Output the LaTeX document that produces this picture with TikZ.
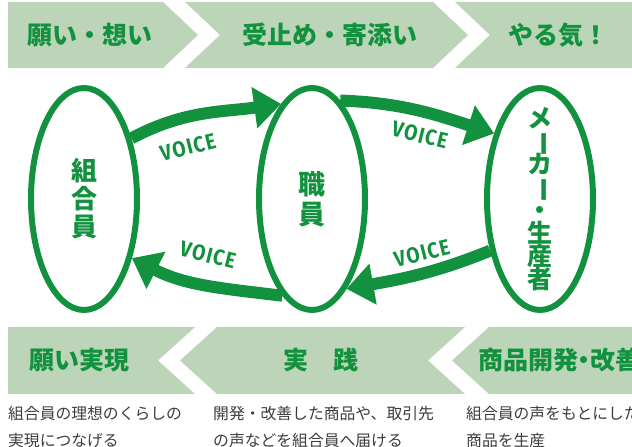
\documentclass[tikz,border=0pt]{standalone}
\usepackage{fontspec}
\newfontfamily\jp{Noto Sans CJK JP}
\newfontfamily\voicefont{Fira Sans}[FakeStretch=0.88,LetterSpace=6]
\usetikzlibrary{arrows.meta,shapes.geometric}
\definecolor{vgreen}{HTML}{12923F}
\definecolor{bandgreen}{HTML}{BCD5B8}
\definecolor{notegrey}{HTML}{3C3C3C}
\newcommand{\vbar}{\rotatebox[origin=c]{-90}{ー}}

\begin{document}
\begin{tikzpicture}[line cap=butt,line join=round,x=1pt,y=1pt,
  actor/.style={ellipse,draw=vgreen,line width=6pt,minimum width=106pt,minimum height=222pt,inner sep=0pt},
  vtext/.style={text=vgreen,align=center,inner sep=0pt},
  title/.style={text=vgreen,font=\jp\bfseries\fontsize{25}{25}\selectfont,inner sep=0pt},
  note/.style={text=notegrey,font=\jp\fontsize{15.8}{27}\selectfont,align=left,anchor=west,inner sep=0pt},
  voice/.style={draw=vgreen,line width=12pt,-{Triangle[length=27pt,width=40pt]}},
  vlabel/.style={text=vgreen,font=\voicefont\bfseries\fontsize{22}{22}\selectfont,inner sep=0pt}]

\clip (0,0) rectangle (632,447);

\draw [fill=bandgreen,draw=none] (8,445)-- (163,445)-- (198,412)-- (163,379)-- (8,379)-- cycle;
\draw [fill=bandgreen,draw=none] (185,445)-- (433,445)-- (468,412)-- (433,379)-- (185,379)-- (220,412)-- cycle;
\draw [fill=bandgreen,draw=none] (455,445)-- (632,445)-- (632,379)-- (455,379)-- (490,412)-- cycle;
\draw [fill=bandgreen,draw=none] (8,120)-- (195,120)-- (158,86.5)-- (195,53)-- (8,53)-- cycle;
\draw [fill=bandgreen,draw=none] (217,120)-- (465,120)-- (428,86.5)-- (465,53)-- (217,53)-- (180,86.5)-- cycle;
\draw [fill=bandgreen,draw=none] (489,120)-- (632,120)-- (632,53)-- (489,53)-- (452,86.5)-- cycle;

\node[title] (wish) at (90,412) {願い・想い};
\node[title] (accept) at (330,412) {受止め・寄添い};
\node[title] (will) at (558,412) {やる気！};
\node[title] (realize) at (79,86.5) {願い実現};
\node[title] (practice) at (321,86.5) {実　践};
\node[title,anchor=west] (develop) at (478,86.5) {商品開発\kern-.25em・\kern-.25em改善};

\node[note] (realizenote) at (8,20) {組合員の理想のくらしの\\実現につなげる};
\node[note] (practicenote) at (213,20) {開発・改善した商品や、取引先\\の声などを組合員へ届ける};
\node[note] (developnote) at (466,20) {組合員の声をもとにした\\商品を生産};

\node[actor] (kumiai) at (84,248) {};
\node[actor] (shokuin) at (312,248) {};
\node[actor] (maker) at (540,248) {};

\node[vtext,font={\jp\bfseries\fontsize{26}{28}\selectfont}] (kumiaitxt) at (kumiai) {組\\合\\員};
\node[vtext,font={\jp\bfseries\fontsize{27}{30}\selectfont}] (shokuintxt) at (shokuin) {職\\員};
\node[vtext,font={\jp\bfseries\fontsize{25}{23}\selectfont\lineskiplimit=-20pt}] (makertxt) at (maker)
  {メ\\\vbar\\カ\\\vbar\\・\\生\\産\\者};

\draw[voice] (kumiai.52) to[out=28,in=188] (shokuin.108);
\draw[voice] (shokuin.253) to[out=173,in=333] (kumiai.309);
\draw[voice] (shokuin.74) to[out=-2,in=162] (maker.125);
\draw[voice] (maker.226) to[out=202,in=10] (shokuin.291);

\node[vlabel,rotate=14] (voice1) at (188,300) {VOICE};
\node[vlabel,rotate=-14] (voice2) at (208,192) {VOICE};
\node[vlabel,rotate=-14] (voice3) at (420,312) {VOICE};
\node[vlabel,rotate=14] (voice4) at (422,194) {VOICE};
\end{tikzpicture}
\end{document}
